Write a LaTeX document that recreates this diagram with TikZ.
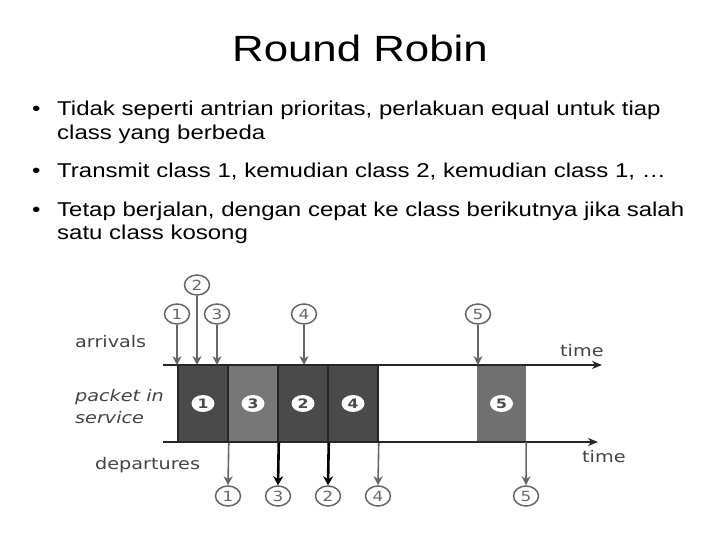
\documentclass[tikz,border=0pt]{standalone}
\usepackage{fontspec}
\setmainfont{Liberation Sans}
\newfontfamily\djv{DejaVu Sans}
\usetikzlibrary{shapes.geometric,arrows.meta}
\newcommand\hs[1]{\scalebox{1.2}[1]{#1}}
\definecolor{boxdark}{HTML}{4A4A4A}
\definecolor{boxmid}{HTML}{777777}
\definecolor{boxfive}{HTML}{707070}
\definecolor{arrgrey}{HTML}{666666}
\definecolor{labgrey}{HTML}{444444}
\begin{document}
\begin{tikzpicture}[x=1pt,y=-1pt,
  body/.style={anchor=base west,inner sep=0,font=\fontsize{20}{24}\selectfont},
  lab/.style={anchor=west,inner sep=0,text=labgrey,font=\djv\fontsize{16}{18}\selectfont},
  circ/.style={ellipse,draw=arrgrey,line width=1.5pt,fill=white,minimum width=25,minimum height=20,inner sep=0,text=arrgrey,font=\djv\fontsize{14}{14}\selectfont},
  inlab/.style={ellipse,fill=white,minimum width=23,minimum height=17,inner sep=0,text=boxdark,font=\djv\bfseries\fontsize{13}{13}\selectfont},
  pbox/.style={rectangle,draw=black!85,line width=1.5pt,minimum width=50,minimum height=77,inner sep=0},
  axis/.style={draw=black!85,line width=2pt,-{Stealth[length=10,width=8]}},
  arr/.style={draw=arrgrey,line width=1.6pt,-{Stealth[length=9,width=9]}},
  barr/.style={draw=black,line width=2.6pt,-{Stealth[length=9,width=10]}}
]
\useasboundingbox (0,0) rectangle (720,540);
\fill[white] (0,0) rectangle (720,540);

% title and bullets
\node[anchor=base,inner sep=0,font=\fontsize{36.5}{40}\selectfont] (title) at (360,62) {\hs{Round Robin}};
\node[body] (b1) at (32,116) {\hs{•}};
\node[body] (t1) at (57,116) {\hs{Tidak seperti antrian prioritas, perlakuan equal untuk tiap}};
\node[body] (t2) at (57,140) {\hs{class yang berbeda}};
\node[body] (b2) at (32,178) {\hs{•}};
\node[body] (t3) at (57,178) {\hs{Transmit class 1, kemudian class 2, kemudian class 1, …}};
\node[body] (b3) at (32,216) {\hs{•}};
\node[body] (t4) at (57,216) {\hs{Tetap berjalan, dengan cepat ke class berikutnya jika salah}};
\node[body] (t5) at (57,240) {\hs{satu class kosong}};

% time axes
\coordinate (ts) at (163,365);
\coordinate (te) at (602,365);
\coordinate (bs) at (163,442);
\coordinate (be) at (598,442);

% boxes
\node[pbox,fill=boxdark] (p1) at (203,403.5) {};
\node[pbox,fill=boxmid] (p3) at (253,403.5) {};
\node[pbox,fill=boxdark] (p2) at (303,403.5) {};
\node[pbox,fill=boxdark] (p4) at (353,403.5) {};
\node[rectangle,fill=boxfive,minimum width=49,minimum height=77,inner sep=0] (p5) at (501.5,403.5) {};

\draw[axis] (ts) -- (te);
\draw[axis] (bs) -- (be);

\node[inlab] (l1) at (p1) {\hs{1}};
\node[inlab] (l3) at (p3) {\hs{3}};
\node[inlab] (l2) at (p2) {\hs{2}};
\node[inlab] (l4) at (p4) {\hs{4}};
\node[inlab] (l5) at (p5) {\hs{5}};

% labels
\node[lab] (arrv) at (75,342) {\hs{arrivals}};
\node[lab,font=\djv\itshape\fontsize{16}{18}\selectfont] (pin) at (75,397) {\hs{packet in}};
\node[lab,font=\djv\itshape\fontsize{16}{18}\selectfont] (svc) at (75,418) {\hs{service}};
\node[lab] (dep) at (95,465) {\hs{departures}};
\node[lab] (time1) at (560,351) {\hs{time}};
\node[lab] (time2) at (582,457) {\hs{time}};

% arrivals
\node[circ] (a1) at (177,314) {\hs{1}};
\node[circ] (a2) at (197,285) {\hs{2}};
\node[circ] (a3) at (217,314) {\hs{3}};
\node[circ] (a4) at (304,314) {\hs{4}};
\node[circ] (a5) at (478,314) {\hs{5}};
\draw[arr] (a1.south) -- (a1.south |- ts);
\draw[arr] (a2.south) -- (a2.south |- ts);
\draw[arr] (a3.south) -- (a3.south |- ts);
\draw[arr] (a4.south) -- (a4.south |- ts);
\draw[arr] (a5.south) -- (a5.south |- ts);

% departures
\node[circ] (d1) at (228,496) {\hs{1}};
\node[circ] (d3) at (278,496) {\hs{3}};
\node[circ] (d2) at (328,496) {\hs{2}};
\node[circ] (d4) at (378,496) {\hs{4}};
\node[circ] (d5) at (526,496) {\hs{5}};
\draw[arr] (p1.south east) -- (d1.north);
\draw[barr] (p3.south east) -- (d3.north);
\draw[barr] (p2.south east) -- (d2.north);
\draw[arr] (p4.south east) -- (d4.north);
\draw[arr] (p5.south east) -- (d5.north);
\end{tikzpicture}
\end{document}
